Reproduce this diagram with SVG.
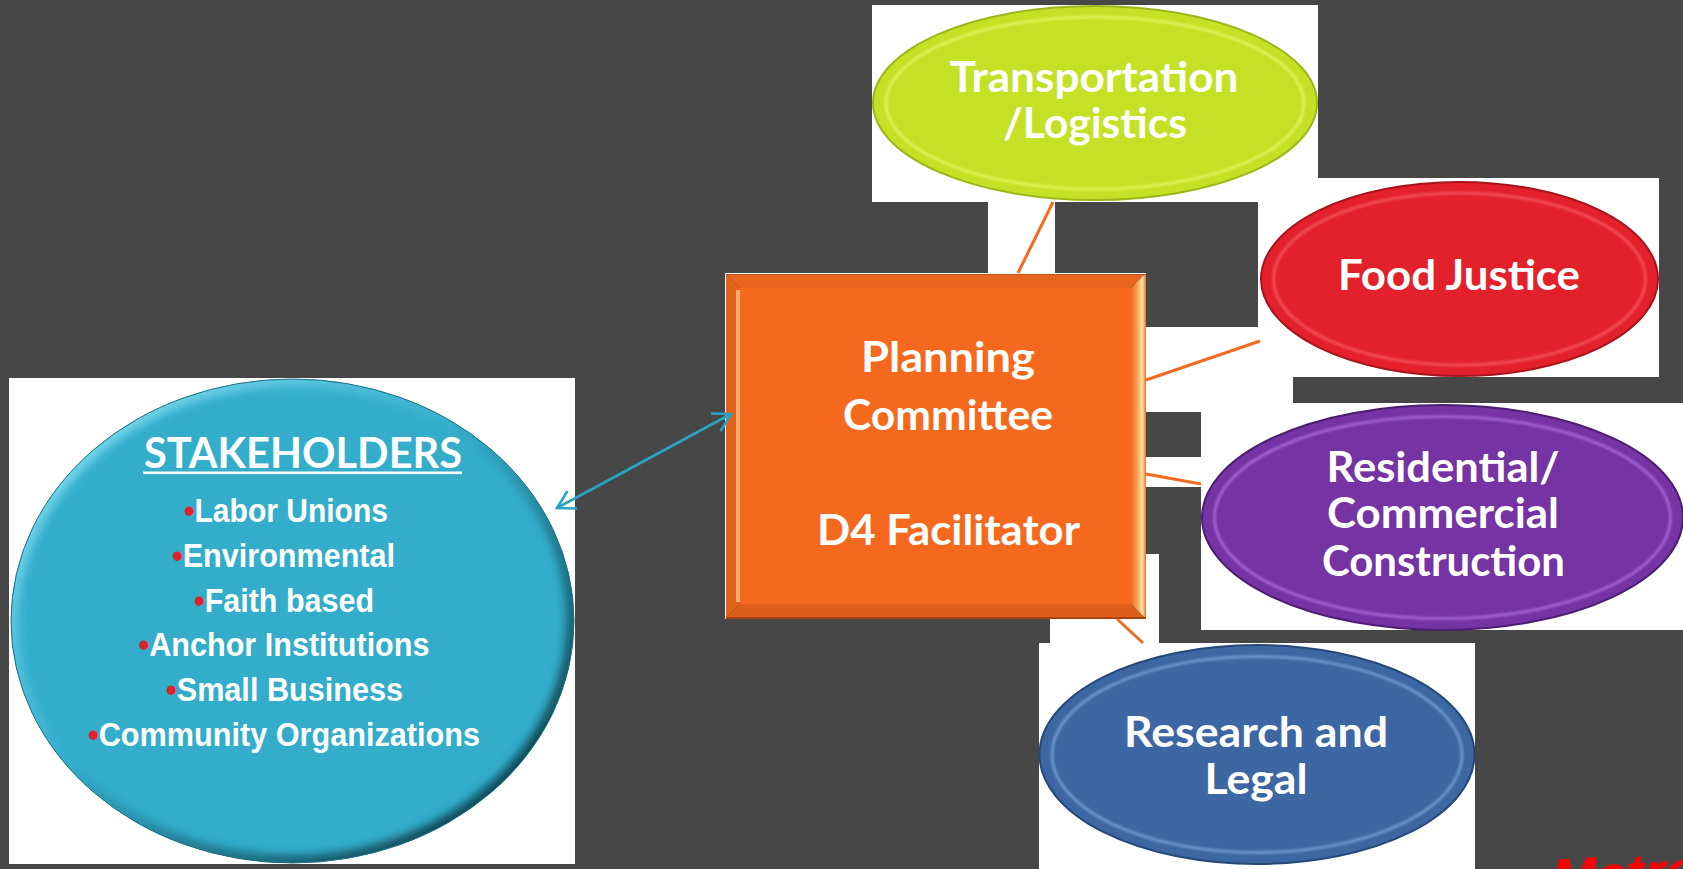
<svg xmlns="http://www.w3.org/2000/svg" width="1683" height="869" viewBox="0 0 1683 869">
<defs>
<style>
.bg{fill:#ffffff}
.t{font-family:Lato,"Open Sans","Liberation Sans",sans-serif;font-weight:700;font-size:42px;fill:#ffffff;text-anchor:middle}
.b{font-family:"Liberation Sans Narrow","Liberation Sans",Arial,sans-serif;font-weight:700;font-size:33px;fill:#ffffff}
.dot{fill:#e0202a}
.con{stroke:#f26b21;stroke-width:3;fill:none;stroke-linecap:butt}
.arr{stroke:#2ba3c2;stroke-width:2.6;fill:none}
.rim{fill:none;stroke-width:3;opacity:0.55;filter:url(#blur1)}
</style>
<filter id="blur1" x="-10%" y="-10%" width="120%" height="120%"><feGaussianBlur stdDeviation="1.2"/></filter>
<filter id="blur4" x="-10%" y="-10%" width="120%" height="120%"><feGaussianBlur stdDeviation="4"/></filter>
<marker id="oa" markerUnits="userSpaceOnUse" viewBox="-22 -13 26 26" refX="0" refY="0" markerWidth="26" markerHeight="26" orient="auto-start-reverse">
<path d="M-17.3,-10 L0,0 L-17.3,10" fill="none" stroke="#2ba3c2" stroke-width="2.6"/>
</marker>
<linearGradient id="rbev" x1="1131" y1="0" x2="1146" y2="0" gradientUnits="userSpaceOnUse">
<stop offset="0" stop-color="#f06a20"/><stop offset="0.45" stop-color="#fba55a"/><stop offset="0.75" stop-color="#ffe7a6"/><stop offset="1" stop-color="#e86f22"/>
</linearGradient>
<linearGradient id="shd" x1="0" y1="0" x2="1" y2="1">
<stop offset="0" stop-color="#8ee6f8"/><stop offset="0.45" stop-color="#33adca"/><stop offset="1" stop-color="#03262f"/>
</linearGradient>
<clipPath id="stkclip"><ellipse cx="292.5" cy="621" rx="281.5" ry="242"/></clipPath>
</defs>

<rect x="0" y="0" width="1683" height="869" fill="#474747"/>

<g id="stakeholders">
<rect class="bg" x="9" y="378" width="566" height="486"/>
<ellipse cx="292.5" cy="621" rx="281.5" ry="242" fill="#33adca"/>
<g clip-path="url(#stkclip)">
<ellipse cx="292.5" cy="621" rx="281.5" ry="242" fill="none" stroke="url(#shd)" stroke-width="16" filter="url(#blur4)"/>
</g>
<ellipse cx="292.5" cy="621" rx="281.5" ry="242" fill="none" stroke="#1d6f83" stroke-width="1"/>
<text class="t" x="303" y="468" textLength="318" lengthAdjust="spacingAndGlyphs">STAKEHOLDERS</text>
<rect x="143" y="471.5" width="319" height="2.6" fill="#ffffff"/>
<text class="b" x="184" y="522" textLength="204" lengthAdjust="spacingAndGlyphs"><tspan class="dot">•</tspan>Labor Unions</text>
<text class="b" x="172" y="567" textLength="223" lengthAdjust="spacingAndGlyphs"><tspan class="dot">•</tspan>Environmental</text>
<text class="b" x="194" y="612" textLength="180" lengthAdjust="spacingAndGlyphs"><tspan class="dot">•</tspan>Faith based</text>
<text class="b" x="138.5" y="656" textLength="291" lengthAdjust="spacingAndGlyphs"><tspan class="dot">•</tspan>Anchor Institutions</text>
<text class="b" x="166" y="701" textLength="237" lengthAdjust="spacingAndGlyphs"><tspan class="dot">•</tspan>Small Business</text>
<text class="b" x="88" y="746" textLength="392" lengthAdjust="spacingAndGlyphs"><tspan class="dot">•</tspan>Community Organizations</text>
</g>

<g id="transportation">
<rect class="bg" x="872" y="5" width="446" height="197"/>
<ellipse cx="1095" cy="103" rx="222" ry="97" fill="#c5e125" stroke="#9db71a" stroke-width="2"/>
<ellipse class="rim" cx="1095" cy="103" rx="209" ry="86" stroke="#f0ff80"/>
<text class="t" x="1094" y="92" textLength="289" lengthAdjust="spacingAndGlyphs">Transportation</text>
<text class="t" x="1095" y="138" textLength="184" lengthAdjust="spacingAndGlyphs">/Logistics</text>
</g>

<g id="food-justice">
<rect class="bg" x="1258" y="178" width="401" height="199"/>
<ellipse cx="1459.5" cy="279" rx="198.5" ry="97" fill="#e2212b" stroke="#a8141c" stroke-width="2"/>
<ellipse class="rim" cx="1459.5" cy="279" rx="186" ry="86" stroke="#ff7076"/>
<text class="t" x="1459" y="290" textLength="242" lengthAdjust="spacingAndGlyphs">Food Justice</text>
</g>

<g id="residential-commercial">
<rect class="bg" x="1201" y="403" width="482" height="227"/>
<ellipse cx="1442.5" cy="517.5" rx="240.5" ry="112.5" fill="#7533a3" stroke="#4c1d70" stroke-width="2"/>
<ellipse class="rim" cx="1442.5" cy="517.5" rx="228" ry="101" stroke="#c38cf0"/>
<text class="t" x="1443" y="482" textLength="233" lengthAdjust="spacingAndGlyphs">Residential/</text>
<text class="t" x="1443" y="528" textLength="232" lengthAdjust="spacingAndGlyphs">Commercial</text>
<text class="t" x="1443.5" y="576" textLength="243" lengthAdjust="spacingAndGlyphs">Construction</text>
</g>

<g id="research-legal">
<rect class="bg" x="1039" y="643" width="436" height="226"/>
<ellipse cx="1257" cy="754.5" rx="217.5" ry="109.5" fill="#3d67a2" stroke="#264877" stroke-width="2"/>
<ellipse class="rim" cx="1257" cy="754.5" rx="205" ry="98" stroke="#8fbff0"/>
<text class="t" x="1256" y="747" textLength="264" lengthAdjust="spacingAndGlyphs">Research and</text>
<text class="t" x="1256" y="794" textLength="103" lengthAdjust="spacingAndGlyphs">Legal</text>
</g>

<g id="planning-committee">
<rect x="740" y="288" width="391" height="316" fill="#f5691e"/>
<polygon points="725,273 1146,273 1131,288 740,288" fill="#e9651d"/>
<polygon points="725,273 740,288 740,604 725,619" fill="#e2621b"/>
<rect x="736" y="290" width="4" height="312" fill="#ffb47a" opacity="0.9"/>
<polygon points="1146,273 1146,619 1131,604 1131,288" fill="url(#rbev)"/>
<polygon points="725,619 1146,619 1131,604 740,604" fill="#de5f1a"/>
<line x1="725" y1="274" x2="1146" y2="274" stroke="#c2501a" stroke-width="2"/>
<line x1="725" y1="618" x2="1146" y2="618" stroke="#a8420f" stroke-width="2"/>
<polyline points="725.5,619 725.5,273.5 1146,273.5" fill="none" stroke="#ffffff" stroke-width="1"/>
<text class="t" x="948" y="372" textLength="174" lengthAdjust="spacingAndGlyphs">Planning</text>
<text class="t" x="948" y="430" textLength="210" lengthAdjust="spacingAndGlyphs">Committee</text>
<text class="t" x="948.5" y="545" textLength="263" lengthAdjust="spacingAndGlyphs">D4 Facilitator</text>
</g>

<g id="connectors">
<rect class="bg" x="988" y="202" width="67" height="71"/>
<rect class="bg" x="1146" y="327" width="114" height="85"/>
<rect class="bg" x="1258" y="377" width="35" height="26"/>
<rect class="bg" x="1146" y="457" width="55" height="30"/>
<rect class="bg" x="1146" y="554" width="13" height="65"/>
<rect class="bg" x="1050" y="619" width="109" height="24"/>
<line class="con" x1="1018" y1="273" x2="1053" y2="202"/>
<line class="con" x1="1146" y1="380" x2="1260" y2="341"/>
<line class="con" x1="1146" y1="474" x2="1201" y2="484"/>
<line class="con" x1="1117" y1="619" x2="1143" y2="643"/>
<line class="arr" x1="557" y1="508" x2="731" y2="414" marker-start="url(#oa)" marker-end="url(#oa)"/>
</g>

<text x="1553" y="897" transform="rotate(-3.5 1553 897)" font-family="Liberation Sans,Arial,sans-serif" font-weight="700" font-style="italic" font-size="54" fill="#ff0000">Metro</text>
</svg>
